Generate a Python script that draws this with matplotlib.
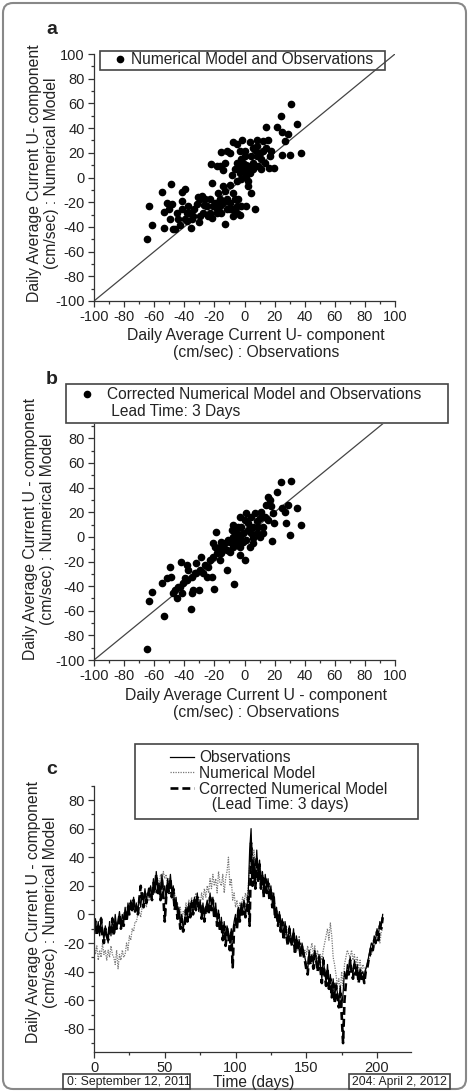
import matplotlib
matplotlib.use("Agg")
import matplotlib.pyplot as plt
import numpy as np
from matplotlib.patches import Rectangle, FancyBboxPatch
from matplotlib.ticker import MultipleLocator
from matplotlib.transforms import IdentityTransform
from matplotlib.lines import Line2D

plt.rcParams['font.family'] = ['Liberation Sans', 'DejaVu Sans']
plt.rcParams['axes.unicode_minus'] = False

# panel a: numerical model vs observations (cm/sec)
a_obs = [-64.8, -63.5, -61.7, -55, -53.3, -53.3, -51.8, -48.9, -49.5, -48, -50, -46.2, -44, -41.8,
         -41.2, -39.4, -42.9, -39.6, -37.4, -35.6, -36.3, -33.4, -30, -30.8, -28.5, -31.8, -26.8,
         -24.6, -21.9, -22.3, -18.6, -14.6, -13.1, -15.3, -9.7, -7.5, -4.9, -1.5, -3.1, 0.2, 3.5,
         8, 14, 8.6, 15.7, 21.7, 24.1, 25.2, 29, 31.2, 35.2, 27.2, 30.1, 24.6, 37.8, 19.7, 16.4,
         6.9, -13.1, -7.5, -3.1, -2, 1.3, 4.6, 2.4, -6.4, -7.5, -9.7, -4.9, -17.5, -16.4, -19.7,
         -21.9, -24.1, -18.6, -15.3, -11.9, -9.7, -5.3, -4,
         -3.1, -0.9, 1.3, 0.9, 3.5, 5.8, 8, 10.2, 12.4, 14.6, 16.8, 13.3, 11.1, 4.6, 6.9, 9.1, 11.1,
         -3.1, -2, 2.4, -5.3, -2, 0.2, 17.9, 12.4, 5.8, 1.3, 3.5, 5.8, -0.9,
         -29.6, -34, -38.5, -29.6, -26.3, -23, -20.8, -16.4, -14.2, -11.9, -9.7, -7.5, -4.9, -23,
         -18.6, -41.8, -45.1, -35.2, -38.5, -47.3, -27.4,
         -14.2, -13.1, -8.6, -6.4, -11.9, -16.4]
a_mod = [-50.1, -22.9, -38.3, -11.9, -40.7, -28, -21, -5.1, -33.2, -21.8, -25.3, -42, -34, -19,
         -12, -9.7, -38.3, -34, -23.2, -40.7, -28.6, -25.9, -36, -15.9, -15, -21.8, -22.6,
         -23.2, -4.3, 11.3, 9.2, 5.7, 11.9, 20.8, 20.2, 28.6, 27.5, 30.7, 21.3, 17.3, 28.6,
         30.7, 41, 25.3, 30.7, 40.7, 50.1, 36.7, 35, 59.8, 43.4, 29.4, 18.3, 18.3, 19.9, 7.8, 7.8,
         -25.9, -38, -31.3, -30.7, -23.2, -23.2, -12.4, -7, -17.8, -12.4, -5.7, -3, -12.4, -17.8, -20.5,
         -32.6, -31.3, -28.6, -28.6, -25.9, -20.5, -23.2, -17.8,
         9.2, 6.5, 1.1, 5.1, 9.2, 11.9, 17.3, 19.9, 21.3, 24, 17.3, 11.9, 14.6, 17.3, 22.6, 9.2, 6.5,
         3.8, -1.6, -3, 11.9, 14.6, 21.3, 21.3, 29.4, 24, 10.5, 3.8, 6.5, 11.9,
         -31.3, -31.3, -28.6, -17.8, -17.8, -17.8, -23.2, -23.2, -20.5, -17.8, -25.9, -25.9, -28.6, -28.6,
         -25.9, -25.9, -28.6, -34, -35.3, -41.9, -28.6,
         -7, -11, 2.4, 6.5, 21.3, 9.2]

# panel b: corrected numerical model (lead time 3 days) vs observations
b_obs = [-64.8, -63.5, -61.7, -53.3, -54.6, -51.8, -49.5, -48.9, -47.8, -46.2, -45.1, -42.9, -42.3,
         -41.2, -39.6, -38.5, -37.4, -35.8, -35.2, -34, -33, -31.9, -30, -28.8, -27.4, -25.2, -24.1,
         -21.9, -20.1, -19, -20.8, -17.5, -16.4, -15.3, -14.2, -11.9, -9.7, -6.9, -8.6, -7.5, -6.4,
         -5.3, -3.1, 0.2, 1.3, 4.6, 6.9, 8, 10.2, 12.4, 14.6, 15.7, 16.8, 17.9, 19, 18.6, 19.7, 21.7,
         24.1, 25.2, 26.8, 27.4, 29, 30.1, 31.2, 35.2, 37.8, 10.2, 12.4, 5.8, 3.5, -0.9, -3.1, -5.3,
         -2, 0.2, 2.4, 4.6, 5.8, 8, -0.9, -4.2, -7.5, -10.8, -13.1, -16.4, -18.6, -20.8, -23, -26.3,
         -29.6, -31.9, -35.2, -38.5, -40.7, -44, -19.7, -15.3, -9.7, -5.3, 1.3, 2.4, 13.3, 15.7,
         11.1, -3.1, -7.5, -11.9, -3.1, 5.8, 9.1]
b_mod = [-91, -51.8, -44.4, -64, -37.7, -33.6, -24.1, -32.2, -45.8, -43.1, -49.9, -40.4, -20.1,
         -45.8, -33.6, -22.8, -26.8, -58.8, -45.8, -43.1, -29.5, -21.4, -43.1, -16.5, -29.5, -32.2,
         -24.1, -32.2, -42.5, 4.3, -5.1, -10.6, -18.7, -13.3, -7.9, -26.8, -11.9, -38.5, 5.7, 0.3,
         -3.8, -6.5, 16.5, -18.7, 19.2, 3, 19.2, 12.5, 15.2, 8.4, 26, 32.2, 30.1, 24.7, 19.2, -3,
         11.1, 36.3, 44.4, 23.3, 19.8, 11.1, 25.5, 1.6, 45, 23.8, 10, 0.3, 3, -5.1, -7.9, -3.8,
         -7.9, 3, 8.4, 13.8, 11.1, 16.5, 8.4, 3, 3, 8.4, 9.8, -2.4, -5.1, -7.9, -13.3, -16, -18.7,
         -22.8, -26.8, -29.5, -32.2, -35, -37.7, -40.4, -7.9, -3.8, -3.8, -2.4, -2.4, 5.7, 16.5,
         13.8, 20.6, -1.1, -7.9, -10.6, -14.6, -1.1, 8.4]

# panel c: daily time series, day 0 = September 12, 2011
days = np.arange(205)
obs = [-8, -3, -12, -5, -15, -2, -10, -18, -8, -14,
       -20, -5, -15, -2, -12, 0, -10, -5, 2, -8,
       0, -5, 5, -3, 8, 2, 10, 5, 12, 3,
       8, 2, 12, 5, 15, 8, 18, 10, 15, 12,
       20, 12, 25, 15, 30, 18, 22, 12, 28, 15,
       20, 10, 25, 18, 28, 15, 20, 5, 12, 0,
       5, -8, 0, -10, -5, 5, -3, 8, 0, 10,
       3, 12, 5, 15, 2, 10, 0, 8, -2, 5,
       10, 2, 15, 5, 12, 0, 8, -5, 3, -10,
       -2, -15, -5, -18, -8, -12, -20, -10, -15, -5,
       0, -8, 5, -2, 8, 2, 10, 0, 5, 15,
       45, 60, 25, 40, 20, 45, 25, 38, 20, 30,
       15, 28, 18, 25, 12, 20, 8, 15, 0, 5,
       -5, 2, -10, -3, -15, -5, -12, -20, -8, -15,
       -20, -10, -25, -15, -22, -18, -28, -20, -25, -30,
       -35, -40, -25, -32, -28, -35, -25, -30, -38, -28,
       -35, -45, -30, -40, -48, -35, -50, -42, -55, -45,
       -60, -48, -55, -62, -50, -65, -55, -40, -45, -35,
       -40, -30, -38, -42, -32, -40, -35, -45, -38, -42,
       -40, -45, -38, -35, -30, -25, -20, -22, -15, -18,
       -10, -15, -5, -8, 0]
model = [-20, -28, -22, -32, -25, -30, -20, -28, -25, -32,
         -25, -30, -22, -28, -30, -35, -25, -38, -28, -32,
         -25, -30, -28, -20, -25, -15, -18, -10, -12, -5,
         -5, 0, 2, -2, 5, 8, 10, 5, 12, 10,
         15, 12, 18, 20, 15, 25, 20, 28, 22, 30,
         25, 28, 20, 25, 18, 20, 10, 15, 5, 8,
         0, 5, -5, 2, 0, 8, 3, 10, 5, 12,
         5, 10, 15, 8, 12, 5, 15, 10, 18, 12,
         20, 15, 25, 18, 28, 20, 25, 15, 30, 22,
         20, 28, 15, 25, 30, 40, 20, 25, 10, 15,
         5, 10, 0, 8, 5, 12, 8, 15, 10, 20,
         35, 50, 30, 45, 35, 40, 25, 35, 20, 30,
         18, 25, 20, 15, 22, 10, 15, 5, 8, -2,
         0, -8, -5, -12, -10, -15, -8, -18, -12, -20,
         -15, -20, -22, -18, -25, -15, -28, -22, -30, -25,
         -28, -22, -30, -25, -20, -28, -22, -30, -25, -35,
         -28, -32, -25, -20, -15, -10, -18, -6, -15, -30,
         -35, -42, -50, -45, -55, -40, -50, -35, -30, -25,
         -28, -30, -25, -32, -28, -35, -30, -38, -32, -40,
         -35, -38, -40, -35, -32, -30, -28, -25, -22, -20,
         -18, -15, -20, -12, -10]
corrected = [-10, -5, -15, -8, -12, -3, -15, -20, -10, -15,
             -18, -8, -12, -3, -15, -5, -10, -8, 0, -10,
             -3, -8, 3, -5, 5, 0, 8, 3, 10, 2,
             5, 0, 10, 20, 12, 5, 15, 8, 12, 18,
             15, 10, 22, 18, 28, 15, 20, 10, 25, 12,
             -5, 12, 22, 15, 25, 12, 18, 3, 10, -3,
             2, -10, -3, -12, -8, 3, -5, 5, -2, 8,
             0, 10, 3, 12, 5, 8, -3, 5, -5, 3,
             8, 0, 12, 3, 10, -3, 5, -8, 0, -12,
             -5, -18, -8, -22, -10, -15, -25, -12, -37, -8,
             -3, -10, 3, -5, 5, 0, 8, -2, 3, 12,
             -8, 50, 20, 35, 18, 40, 22, 35, 18, 28,
             12, 25, 15, 22, 10, 18, 5, 12, -3, 3,
             -8, 0, -12, -5, -18, -8, -15, -22, -10, -18,
             -22, -12, -28, -18, -25, -20, -30, -22, -28, -32,
             -38, -42, -28, -35, -30, -38, -28, -32, -40, -30,
             -38, -48, -32, -42, -50, -38, -52, -45, -58, -48,
             -62, -50, -58, -65, -55, -70, -90, -60, -48, -38,
             -42, -32, -40, -45, -35, -42, -38, -48, -40, -45,
             -42, -48, -40, -38, -32, -28, -22, -25, -18, -20,
             -12, -18, -8, -10, -2]

W, H = 469, 1092
fig = plt.figure(figsize=(W / 100, H / 100), dpi=100)


def fx(x):
    return x / W


def fy(y):
    return 1 - y / H


def axes_px(left, top, right, bottom):
    return fig.add_axes([fx(left), fy(bottom), (right - left) / W, (bottom - top) / H])


def style(ax):
    for s in ['top', 'right']:
        ax.spines[s].set_visible(False)
    for s in ['left', 'bottom']:
        ax.spines[s].set_linewidth(0.9)
        ax.spines[s].set_color('#333')
    ax.tick_params(which='major', direction='out', length=4.5, width=0.9, pad=2,
                   labelsize=10.5, colors='#333', labelcolor='#222')
    ax.tick_params(which='minor', direction='out', length=2.5, width=0.9, colors='#333')


def frame(left, top, right, bottom, fill=False):
    r = Rectangle((fx(left), fy(bottom)), (right - left) / W, (bottom - top) / H,
                  transform=fig.transFigure, fill=fill, facecolor='white',
                  edgecolor='#444', lw=1.2, zorder=2)
    fig.patches.append(r)


txt = '#222'
lab_fs = 11.3
ms = 4.5
blank = Line2D([], [], ls='none')

# ---- panel a ----
ax1 = axes_px(94, 54, 395, 301)
ax1.plot([-100, 100], [-100, 100], color='#444', lw=0.9)
ax1.plot(a_obs, a_mod, 'o', color='black', ms=ms, ls='none')
ax1.set_xlim(-100, 100)
ax1.set_ylim(-100, 100)
ax1.xaxis.set_major_locator(MultipleLocator(20))
ax1.xaxis.set_minor_locator(MultipleLocator(10))
ax1.yaxis.set_major_locator(MultipleLocator(20))
ax1.yaxis.set_minor_locator(MultipleLocator(10))
style(ax1)
frame(100, 51, 385, 70)
h1 = Line2D([], [], marker='o', color='black', ms=ms, ls='none')
fig.legend([h1], ['Numerical Model and Observations'], loc='center left',
           bbox_to_anchor=(fx(114), fy(60)), frameon=False, fontsize=11.2,
           handlelength=0.8, handletextpad=0.3, borderpad=0, borderaxespad=0,
           labelcolor=txt)
fig.text(fx(52), fy(29), 'a', fontsize=14, fontweight='bold', ha='center', va='center', color=txt)
fig.text(fx(43), fy(173), 'Daily Average Current U- component\n(cm/sec) : Numerical Model',
         rotation=90, ha='center', va='center', fontsize=lab_fs, linespacing=1.1, color=txt)
fig.text(fx(256), fy(344), 'Daily Average Current U- component\n(cm/sec) : Observations',
         ha='center', va='center', fontsize=lab_fs, linespacing=1.1, color=txt)

# ---- panel b ----
ax2 = axes_px(94, 423.6, 395, 660)
ax2.plot([-100, 100], [-100, 100], color='#444', lw=0.9)
ax2.plot(b_obs, b_mod, 'o', color='black', ms=ms, ls='none')
ax2.set_xlim(-100, 100)
ax2.set_ylim(-100, 92)
ax2.xaxis.set_major_locator(MultipleLocator(20))
ax2.xaxis.set_minor_locator(MultipleLocator(10))
ax2.set_yticks(np.arange(-100, 81, 20))
ax2.yaxis.set_minor_locator(MultipleLocator(10))
style(ax2)
frame(66, 384, 448, 423, fill=True)
h2 = Line2D([], [], marker='o', color='black', ms=ms, ls='none')
fig.legend([h2, blank], ['Corrected Numerical Model and Observations', ' Lead Time: 3 Days'],
           loc='upper left', bbox_to_anchor=(fx(81), fy(387)), frameon=False, fontsize=11.2,
           handlelength=0.8, handletextpad=0.9, borderpad=0, borderaxespad=0,
           labelspacing=0.1, labelcolor=txt)
fig.text(fx(52), fy(380), 'b', fontsize=14, fontweight='bold', ha='center', va='center', color=txt)
fig.text(fx(39), fy(529), 'Daily Average Current U - component\n(cm/sec) : Numerical Model',
         rotation=90, ha='center', va='center', fontsize=lab_fs, linespacing=1.1, color=txt)
fig.text(fx(256), fy(704), 'Daily Average Current U - component\n(cm/sec) : Observations',
         ha='center', va='center', fontsize=lab_fs, linespacing=1.1, color=txt)

# ---- panel c ----
ax3 = axes_px(94, 785.7, 411, 1051.7)
ax3.plot(days, model, color='#777', lw=0.9, ls=(0, (1, 1)))
ax3.plot(days, obs, color='black', lw=0.9)
ax3.plot(days, corrected, color='black', lw=1.9, ls=(0, (3, 1.5)))
ax3.set_xlim(0, 224)
ax3.set_ylim(-96, 90)
ax3.xaxis.set_major_locator(MultipleLocator(50))
ax3.xaxis.set_minor_locator(MultipleLocator(25))
ax3.set_yticks(np.arange(-80, 81, 20))
ax3.yaxis.set_minor_locator(MultipleLocator(10))
style(ax3)
frame(135, 744, 418, 819)
hc = [Line2D([], [], color='black', lw=0.9),
      Line2D([], [], color='#777', lw=0.9, ls=(0, (1, 1))),
      Line2D([], [], color='black', lw=1.9, ls=(0, (3, 1.5))),
      blank]
fig.legend(hc, ['Observations', 'Numerical Model', 'Corrected Numerical Model',
                '   (Lead Time: 3 days)'],
           loc='upper left', bbox_to_anchor=(fx(170), fy(750)), frameon=False, fontsize=11.2,
           handlelength=1.55, handletextpad=0.32, borderpad=0, borderaxespad=0,
           labelspacing=0.05, labelcolor=txt)
fig.text(fx(52), fy(770), 'c', fontsize=14, fontweight='bold', ha='center', va='center', color=txt)
fig.text(fx(42), fy(912), 'Daily Average Current U - component\n(cm/sec) : Numerical Model',
         rotation=90, ha='center', va='center', fontsize=lab_fs, linespacing=1.1, color=txt)
fig.text(fx(254), fy(1083), 'Time (days)', ha='center', va='center', fontsize=11.2, color=txt)

frame(63, 1074, 190, 1089)
clip = Rectangle((fx(63), fy(1089)), 127 / W, 15 / H, transform=fig.transFigure)
t = fig.text(fx(67), fy(1081.5), '0: September 12, 2011', ha='left', va='center',
             fontsize=8.8, color=txt)
t.set_clip_path(clip)
frame(349, 1074, 450, 1089)
fig.text(fx(399.5), fy(1081.5), '204: April 2, 2012', ha='center', va='center',
         fontsize=8.7, color=txt)

# outer rounded border
border = FancyBboxPatch((3, 3), W - 6, H - 6, boxstyle='round,pad=0,rounding_size=10',
                        transform=IdentityTransform(), fill=False, edgecolor='#888', lw=1.5)
fig.patches.append(border)

fig.savefig('out.png', dpi=100)
